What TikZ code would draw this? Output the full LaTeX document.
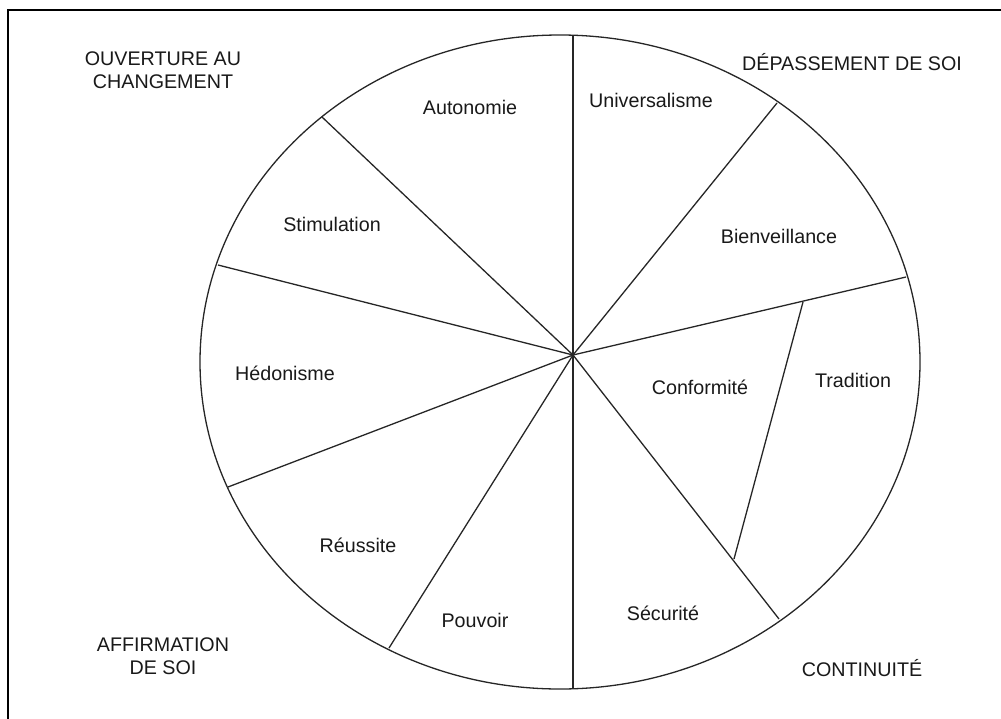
\documentclass[tikz,border=0pt]{standalone}
\usepackage{fontspec}
\setmainfont{Liberation Sans}
\begin{document}
\begin{tikzpicture}[x=1pt,y=-1pt,
  lbl/.style={font=\fontsize{19.7}{22.5}\selectfont, align=center, inner sep=0pt, text=black!90},
  ln/.style={line width=1.3pt, draw=black!85}]
\useasboundingbox (0,0) rectangle (1001,718);
\clip (0,0) rectangle (1001,718);
\draw[line width=2pt] (8,10) rectangle (1030,740);
% centres
\coordinate (O) at (573,355);
\coordinate (C) at (560,362);
\draw[ln] (C) ellipse [x radius=360, y radius=327];
% rim points
\coordinate (top) at (573,35);
\coordinate (ur) at (777,103);
\coordinate (r) at (906,277);
\coordinate (lr) at (779,619);
\coordinate (bot) at (573,689);
\coordinate (bl) at (389,648);
\coordinate (ll) at (228,487);
\coordinate (ul) at (218,265);
\coordinate (tl) at (322,117);
% inner split points
\coordinate (s1) at (803,302);
\coordinate (s2) at (734,559);
\foreach \p in {top,ur,r,lr,bot,bl,ll,ul,tl} \draw[ln] (O) -- (\p);
\draw[ln] (s1) -- (s2);
% sector labels
\node[lbl] (auto) at (470,107) {Autonomie};
\node[lbl] (univ) at (651,100) {Universalisme};
\node[lbl] (bien) at (779,236) {Bienveillance};
\node[lbl] (stim) at (332,224) {Stimulation};
\node[lbl] (hedo) at (285,373) {Hédonisme};
\node[lbl] (conf) at (700,387) {Conformité};
\node[lbl] (trad) at (853,380) {Tradition};
\node[lbl] (reus) at (358,545) {Réussite};
\node[lbl] (pouv) at (475,620) {Pouvoir};
\node[lbl] (secu) at (663,613) {Sécurité};
% group labels
\node[lbl] (ouv) at (163,70) {OUVERTURE AU\\CHANGEMENT};
\node[lbl] (dep) at (852,62) {DÉPASSEMENT DE SOI};
\node[lbl] (aff) at (163,656) {AFFIRMATION\\DE SOI};
\node[lbl] (cont) at (862,668) {CONTINUITÉ};
\end{tikzpicture}
\end{document}
